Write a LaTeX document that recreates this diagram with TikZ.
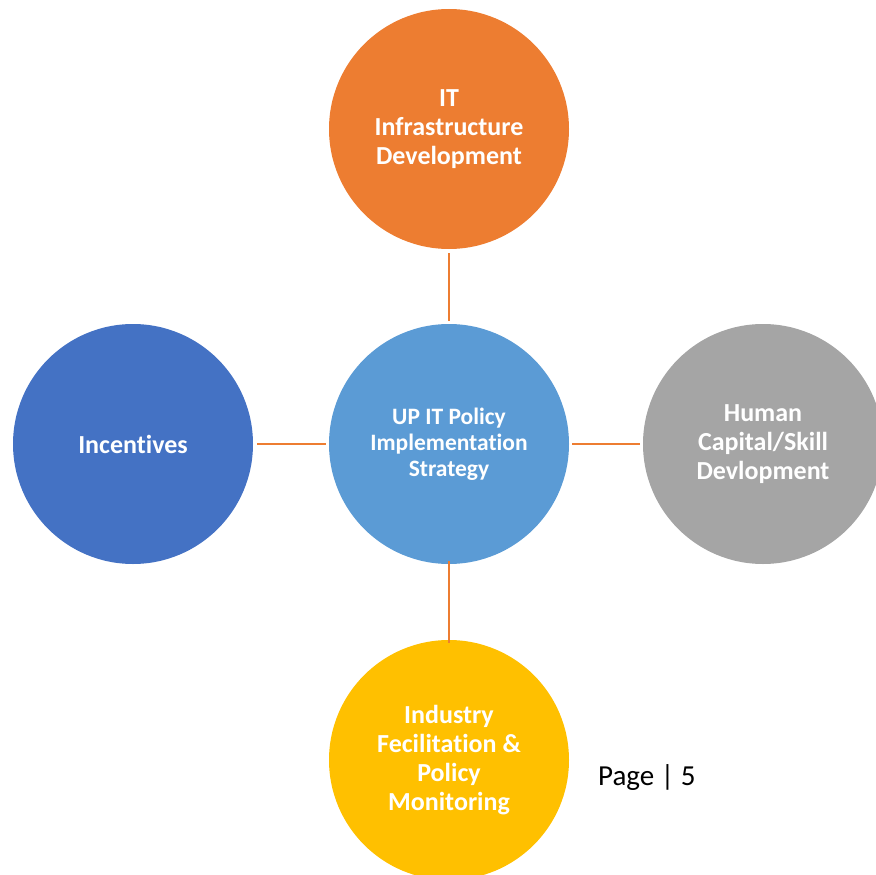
\documentclass[tikz,border=0pt]{standalone}
\usepackage{fontspec}
\setmainfont[Ligatures=NoCommon]{Carlito}
\definecolor{corange}{HTML}{ED7D31}
\definecolor{cblue}{HTML}{5B9BD5}
\definecolor{cdblue}{HTML}{4472C4}
\definecolor{cgray}{HTML}{A5A5A5}
\definecolor{cyellow}{HTML}{FFC000}
\begin{document}
\begin{tikzpicture}[x=1pt,y=-1pt,
  bubble/.style={circle,minimum size=240pt,inner sep=0pt,text=white,align=center,
    font=\fontsize{26}{29}\selectfont\bfseries},
  link/.style={draw=corange,line width=2.5pt}]
\useasboundingbox (0,0) rectangle (876,875);
\clip (0,0) rectangle (876,875);
\node[bubble,fill=corange] (top) at (449,129) {IT\\Infrastructure\\Development};
\node[bubble,fill=cblue,font=\fontsize{23.5}{26}\selectfont\bfseries] (mid) at (449,444) {UP IT Policy\\Implementation\\Strategy};
\node[bubble,fill=cdblue] (left) at (133,444) {Incentives};
\node[bubble,fill=cgray] (right) at (763,444) {Human\\Capital/Skill\\Devlopment};
\node[bubble,fill=cyellow] (bot) at (449,760) {Industry\\Fecilitation \&\\Policy\\Monitoring};
\path[link] ([yshift=-4pt]top.south) -- ([yshift=3pt]mid.north);
\path[link] ([yshift=3pt]mid.south) -- ([yshift=-3pt]bot.north);
\path[link] ([xshift=4pt]left.east) -- ([xshift=-3pt]mid.west);
\path[link] ([xshift=3pt]mid.east) -- ([xshift=-3pt]right.west);
\node[anchor=west,inner sep=0pt,font=\fontsize{29}{32}\selectfont] (page) at (598,778) {Page | 5};
\end{tikzpicture}
\end{document}
